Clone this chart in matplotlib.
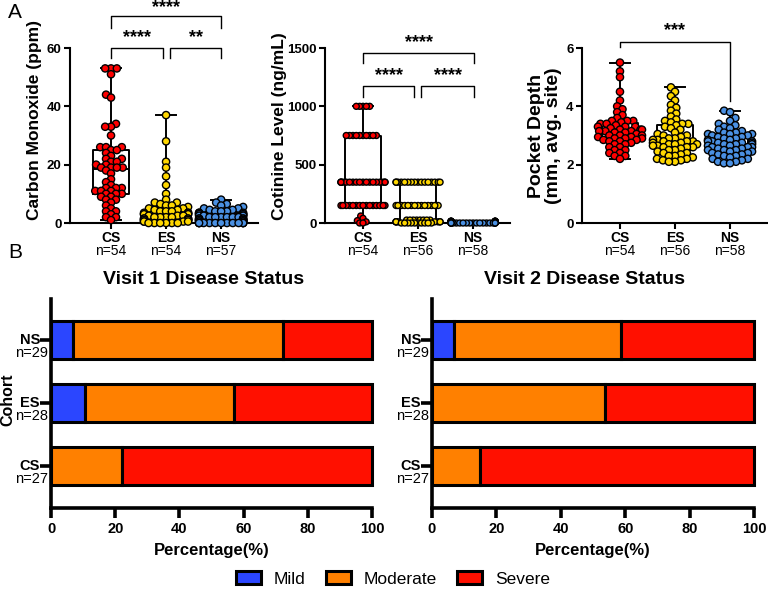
import numpy as np
import pandas as pd
import matplotlib
matplotlib.use("Agg")
import matplotlib.pyplot as plt
import seaborn as sns
from matplotlib.patches import Patch

plt.rcParams['font.family'] = ['Liberation Sans', 'DejaVu Sans']

groups = ["CS", "ES", "NS"]
group_colors = ["#FF0000", "#FFD700", "#4A90E2"]

# Panel A: carbon monoxide (ppm)
co_cs = [53, 53, 53, 51, 44, 43, 34, 33, 33, 30, 26, 26, 26,
         25, 25, 24, 23, 22, 22, 21, 21, 20, 20, 19, 19, 19, 19,
         18, 17, 15, 14, 13, 12, 12, 12, 11, 11, 11, 10, 10, 10, 9, 9,
         8, 8, 7, 6, 5, 4, 4, 3, 2, 2, 1]
co_es = [37, 28, 21, 19, 16, 13, 10, 8, 7, 7, 6.5, 6, 6, 5.5,
         5, 5, 4.5, 4.5, 4, 4, 4, 3.5, 3.5, 3.5, 3, 3, 3,
         3, 2.5, 2.5, 2.5, 2, 2, 2, 2, 1.5, 1.5, 1.5, 1.5, 1, 1, 1, 1, 1,
         0.5, 0.5, 0.5, 0.5, 0, 0, 0, 0, 0, 0]
co_ns = [8, 7, 6.5, 6, 5.5, 5, 5, 4.5, 4.5, 4, 4, 4, 3.5, 3.5,
         3.5, 3, 3, 3, 3, 2.5, 2.5, 2.5, 2.5, 2, 2, 2, 2, 2, 2,
         1.5, 1.5, 1.5, 1.5, 1, 1, 1, 1, 1, 1, 0.5, 0.5, 0.5, 0.5, 0.5,
         0, 0, 0, 0, 0, 0, 0, 0, 0, 0, 0, 0, 0]
co_n = [54, 54, 57]

# cotinine (ng/mL)
cot_cs = [1000] * 5 + [750] * 10 + [350] * 18 + [150] * 15 + [60, 40, 20, 10, 0, 0]
cot_es = [350] * 16 + [150] * 14 + [25] * 8 + [10] * 8 + [0] * 10
cot_ns = [15] * 8 + [10] * 12 + [5] * 18 + [0] * 20
cot_n = [54, 56, 58]

# pocket depth (mm, avg. site)
pd_cs = [5.5, 5.2, 5.0, 4.5, 4.2, 4.0, 3.9, 3.8, 3.7, 3.6, 3.5, 3.5, 3.5, 3.45,
         3.4, 3.4, 3.35, 3.3, 3.3, 3.3, 3.25, 3.2, 3.2, 3.2, 3.15, 3.15, 3.15,
         3.1, 3.1, 3.05, 3.0, 3.0, 3.0, 2.95, 2.95, 2.9, 2.9, 2.9, 2.85, 2.85, 2.8,
         2.8, 2.75, 2.7, 2.7, 2.6, 2.6, 2.5, 2.5, 2.4, 2.4, 2.3, 2.3, 2.2]
pd_es = [4.65, 4.5, 4.35, 4.2, 4.05, 3.95, 3.85, 3.75, 3.65, 3.55, 3.5, 3.45, 3.4, 3.4,
         3.35, 3.3, 3.25, 3.2, 3.1, 3.05, 3.0, 3.0, 2.95, 2.9, 2.9, 2.85, 2.85, 2.8,
         2.8, 2.8, 2.75, 2.75, 2.7, 2.7, 2.7, 2.65, 2.65, 2.6, 2.6, 2.6, 2.55, 2.5,
         2.5, 2.45, 2.4, 2.4, 2.35, 2.3, 2.3, 2.25, 2.2, 2.2, 2.15, 2.15, 2.1, 2.1]
pd_ns = [3.85, 3.8, 3.6, 3.5, 3.4, 3.35, 3.3, 3.25, 3.2, 3.15, 3.1, 3.1, 3.05, 3.05, 3.05,
         3.0, 3.0, 2.95, 2.95, 2.9, 2.9, 2.85, 2.85, 2.8, 2.8, 2.8, 2.75, 2.75, 2.75,
         2.7, 2.7, 2.7, 2.65, 2.65, 2.6, 2.6, 2.6, 2.55, 2.55, 2.5, 2.5, 2.5, 2.45, 2.45,
         2.4, 2.4, 2.35, 2.35, 2.3, 2.3, 2.25, 2.2, 2.2, 2.15, 2.1, 2.1, 2.05, 2.05]
pd_n = [54, 56, 58]

# Panel B: disease status (%)
cohorts = ["CS", "ES", "NS"]
cohort_n = [27, 28, 29]
v1_mild = [0, 10.7, 6.9]
v1_moderate = [22.2, 46.4, 65.5]
v1_severe = [77.8, 42.9, 27.6]
v2_mild = [0, 0, 6.9]
v2_moderate = [14.8, 53.6, 51.7]
v2_severe = [85.2, 46.4, 41.4]
status_labels = ["Mild", "Moderate", "Severe"]
status_colors = ["#2B46FF", "#FF8000", "#FF1000"]

W, H = 768, 589
fig = plt.figure(figsize=(W / 100, H / 100), dpi=100)
swarms = []  # (collection, final marker size) - swarm laid out small, drawn bigger so points overlap


def px_axes(x0, x1, ytop, ybot):
    return fig.add_axes([x0 / W, 1 - ybot / H, (x1 - x0) / W, (ybot - ytop) / H])


def box_swarm(ax, data, ns, yticks, ylabel, xlim, size, layout_size, lab_xy, lab_fs=12.5):
    df = pd.DataFrame({"group": np.repeat(groups, [len(d) for d in data]),
                       "value": np.concatenate(data)})
    sns.swarmplot(data=df, x="group", y="value", hue="group", palette=group_colors,
                  size=layout_size, edgecolor="black", linewidth=1.0, ax=ax, legend=False,
                  warn_thresh=1)
    for c in ax.collections:
        c.set_zorder(3)
        c.set_clip_on(False)
        swarms.append((c, size))
    lp = dict(color="black", linewidth=1.4)
    ax.boxplot(data, positions=[0, 1, 2], widths=0.67, whis=(0, 100), showfliers=False,
               manage_ticks=False, capwidths=0.36, boxprops=lp, medianprops=lp,
               whiskerprops=lp, capprops=lp, zorder=1)
    ax.set_xlim(*xlim)
    ax.set_ylim(yticks[0], yticks[-1])
    ax.set_yticks(yticks)
    ax.set_xticks([0, 1, 2])
    ax.set_xticklabels(groups, fontweight="bold", fontsize=10)
    for lbl in ax.get_yticklabels():
        lbl.set_fontweight("bold")
        lbl.set_fontsize(9.5)
    ax.set_xlabel("")
    ax.set_ylabel(ylabel, fontsize=lab_fs, fontweight="bold", linespacing=1.0)
    ax.yaxis.set_label_coords(*lab_xy)
    for i, n in enumerate(ns):
        ax.annotate(f"n={n}", xy=(i, 0), xycoords=("data", "axes fraction"),
                    xytext=(0, -20), textcoords="offset points",
                    ha="center", va="center", fontsize=10)
    for s in ["top", "right"]:
        ax.spines[s].set_visible(False)
    for s in ["left", "bottom"]:
        ax.spines[s].set_linewidth(1.5)
    ax.tick_params(width=1.5, length=4, pad=2)


def bracket(ax, x1, x2, y, d1, d2, text, ty, fs=13):
    ax.plot([x1, x1, x2, x2], [d1, y, y, d2], color="black", lw=1.0, clip_on=False)
    ax.text((x1 + x2) / 2, ty, text, ha="center", va="center", fontsize=fs,
            fontweight="bold", clip_on=False)


ax1 = px_axes(70, 258, 48, 223)
box_swarm(ax1, [co_cs, co_es, co_ns], co_n, [0, 20, 40, 60], "Carbon Monoxide (ppm)",
          (-0.745, 2.67), 5.2, 3.0, (-0.149, 0.59))
bracket(ax1, 0, 0.945, 60, 56.5, 56.5, "****", 63.5)
bracket(ax1, 1.07, 2.0, 60, 56.5, 56.5, "**", 63.5)
bracket(ax1, 0, 2.0, 71, 66.8, 66.8, "****", 73.8)

ax2 = px_axes(325, 510, 48, 223)
box_swarm(ax2, [cot_cs, cot_es, cot_ns], cot_n, [0, 500, 1000, 1500], "Cotinine Level (ng/mL)",
          (-0.69, 2.67), 4.3, 1.3, (-0.205, 0.555))
bracket(ax2, 0, 0.93, 1174, 1080, 1080, "****", 1265)
bracket(ax2, 1.05, 2.02, 1174, 1080, 1080, "****", 1265)
bracket(ax2, 0, 2.02, 1457, 1371, 1371, "****", 1545)

ax3 = px_axes(582, 768, 48, 223)
box_swarm(ax3, [pd_cs, pd_es, pd_ns], pd_n, [0, 2, 4, 6], "Pocket Depth\n(mm, avg. site)",
          (-0.69, 2.69), 5.2, 3.2, (-0.108, 0.50), lab_fs=14)
bracket(ax3, 0, 2.0, 6.2, 6.03, 4.2, "***", 6.58)


def stacked(ax, mild, moderate, severe, title):
    y = np.arange(len(cohorts))
    left = np.zeros(len(cohorts))
    for vals, col in zip([mild, moderate, severe], status_colors):
        bars = ax.barh(y, vals, left=left, height=0.6, color=col, edgecolor="black",
                       linewidth=2.2)
        for b in bars:
            b.set_clip_on(False)
        left = left + np.array(vals)
    ax.set_xlim(0, 100)
    ax.set_ylim(-0.67, 2.65)
    ax.set_xticks([0, 20, 40, 60, 80, 100])
    for lbl in ax.get_xticklabels():
        lbl.set_fontweight("bold")
        lbl.set_fontsize(10.5)
    ax.set_yticks(y)
    ax.set_yticklabels(cohorts, fontweight="bold", fontsize=10.5, va="center")
    for i, n in enumerate(cohort_n):
        ax.annotate(f"n={n}", xy=(0, i), xycoords=("axes fraction", "data"),
                    xytext=(-2, -9.5), textcoords="offset points",
                    ha="right", va="center", fontsize=10.5)
    ax.set_xlabel("Percentage(%)", fontsize=12, fontweight="bold", labelpad=5)
    ax.text(0.474, 1.095, title, transform=ax.transAxes, ha="center", va="center",
            fontsize=14, fontweight="bold")
    for s in ["top", "right"]:
        ax.spines[s].set_visible(False)
    for s in ["left", "bottom"]:
        ax.spines[s].set_linewidth(2.6)
    ax.tick_params(axis="y", width=2.6, length=8, pad=0)
    ax.tick_params(axis="x", width=2.6, length=7, pad=3)


ax4 = px_axes(51, 372, 299, 508)
stacked(ax4, v1_mild, v1_moderate, v1_severe, "Visit 1 Disease Status")
ax4.set_ylabel("Cohort", fontsize=11.5, fontweight="bold")
ax4.yaxis.set_label_coords(-0.11, 0.52)

ax5 = px_axes(432, 754, 299, 508)
stacked(ax5, v2_mild, v2_moderate, v2_severe, "Visit 2 Disease Status")

handles = [Patch(facecolor=c, edgecolor="black", linewidth=2.2) for c in status_colors]
fig.legend(handles, status_labels, loc="center", bbox_to_anchor=(393 / W, 1 - 579 / H),
           ncol=3, frameon=False, fontsize=12.5, handlelength=1.45, handleheight=0.8,
           columnspacing=1.15, handletextpad=0.75)

fig.text(8 / W, 1 - 12 / H, "A", fontsize=15, ha="left", va="center")
fig.text(8 / W, 1 - 253 / H, "B", fontsize=15, ha="left", va="center")

# lay the swarms out with the small size, then freeze positions and enlarge markers
fig.canvas.draw()
for c, s in swarms:
    if "draw" in c.__dict__:
        del c.draw
    c.set_sizes([s ** 2])

fig.savefig("out.png", dpi=100)
